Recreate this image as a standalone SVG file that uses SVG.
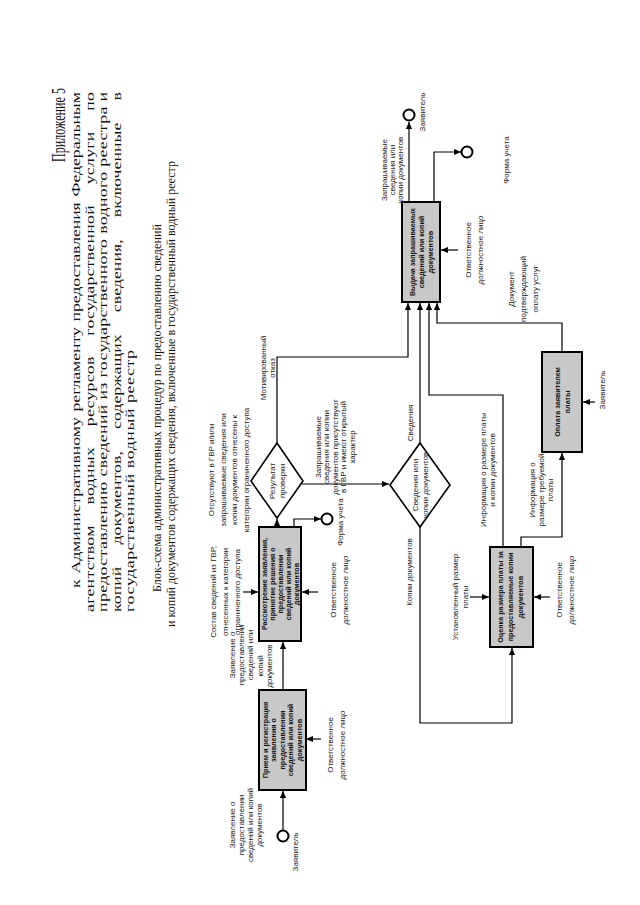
<svg xmlns="http://www.w3.org/2000/svg" width="640" height="905" viewBox="0 0 640 905">
<defs>
<style>
.hdr{font-family:"Liberation Serif","Times New Roman",serif;font-size:17.8px;fill:#111}
.ttl{font-family:"Liberation Serif","Times New Roman",serif;font-size:12.2px;fill:#111;text-anchor:middle}
.lbl{font-family:"Liberation Sans",Arial,sans-serif;font-size:8px;fill:#222;text-anchor:middle}
.bt{font-family:"Liberation Sans",Arial,sans-serif;font-size:7.2px;font-weight:bold;fill:#111;text-anchor:middle}
.box{fill:#c8c8c8;stroke:#000;stroke-width:2}
.dia{fill:#fff;stroke:#000;stroke-width:1.6}
.term{fill:#fff;stroke:#000;stroke-width:2}
.con{fill:none;stroke:#000;stroke-width:1.2}
</style>
<marker id="ah" viewBox="0 0 8 8" refX="8" refY="4" markerWidth="7" markerHeight="7" markerUnits="userSpaceOnUse" orient="auto"><path d="M0,0.5 L8,4 L0,7.5 z" fill="#000"/></marker>
</defs>
<rect width="640" height="905" fill="#fff"/>

<g id="header">
<text class="hdr" font-size="14" transform="translate(65,162) rotate(-90)" textLength="74" lengthAdjust="spacingAndGlyphs">Приложение 5</text>
<text class="hdr" word-spacing="1.5" transform="translate(80,588) rotate(-90) scale(1,0.68)" textLength="496" lengthAdjust="spacing">к Административному регламенту предоставления Федеральным</text>
<text class="hdr" word-spacing="16" transform="translate(93.5,612) rotate(-90) scale(1,0.68)" textLength="520" lengthAdjust="spacing">агентством водных ресурсов государственной услуги по</text>
<text class="hdr" transform="translate(107,612) rotate(-90) scale(1,0.68)" textLength="520" lengthAdjust="spacing">предоставлению сведений из государственного водного реестра и</text>
<text class="hdr" word-spacing="17.6" transform="translate(120.5,612) rotate(-90) scale(1,0.68)" textLength="520" lengthAdjust="spacing">копий документов, содержащих сведения, включенные в</text>
<text class="hdr" transform="translate(134,612) rotate(-90) scale(1,0.68)" textLength="262" lengthAdjust="spacing">государственный водный реестр</text>
<text class="ttl" transform="translate(161,408) rotate(-90)" textLength="368" lengthAdjust="spacingAndGlyphs">Блок-схема административных процедур по предоставлению сведений</text>
<text class="ttl" transform="translate(175,394) rotate(-90)" textLength="466" lengthAdjust="spacingAndGlyphs">и копий документов содержащих сведения, включенные в государственный водный реестр</text>
</g>

<g id="connectors">
<path class="con" marker-end="url(#ah)" d="M283,830 V791"/>
<path class="con" marker-end="url(#ah)" d="M283,690 V642"/>
<path class="con" marker-end="url(#ah)" d="M321,739 H306"/>
<path class="con" marker-end="url(#ah)" d="M243,592 H258"/>
<path class="con" marker-end="url(#ah)" d="M318,592 H302"/>
<path class="con" marker-end="url(#ah)" d="M294,527 V519 H321"/>
<path class="con" marker-end="url(#ah)" d="M277,527 V519"/>
<path class="con" marker-end="url(#ah)" d="M277,443 V357 H408 V303"/>
<path class="con" marker-end="url(#ah)" d="M302,484 H389"/>
<path class="con" marker-end="url(#ah)" d="M420,443 V303"/>
<path class="con" marker-end="url(#ah)" d="M420,527 V723 H512 V648"/>
<path class="con" marker-end="url(#ah)" d="M470,597 H489"/>
<path class="con" marker-end="url(#ah)" d="M550,597 H534"/>
<path class="con" marker-end="url(#ah)" d="M503,547 V395 H429 V303"/>
<path class="con" marker-end="url(#ah)" d="M521,547 V537 H562 V453"/>
<path class="con" marker-end="url(#ah)" d="M595,402 H583"/>
<path class="con" marker-end="url(#ah)" d="M562,352 V323 H437 V303"/>
<path class="con" marker-end="url(#ah)" d="M409,202 V122"/>
<path class="con" marker-end="url(#ah)" d="M434,202 V152 H461"/>
<path class="con" marker-end="url(#ah)" d="M458,250 H441"/>
</g>

<g id="terminals">
<circle class="term" cx="283" cy="836" r="5.5"/>
<circle class="term" cx="327" cy="519" r="5.5"/>
<circle class="term" cx="409" cy="115" r="5.5"/>
<circle class="term" cx="467" cy="152" r="5.5"/>
</g>

<g id="box1">
<rect class="box" x="259" y="690" width="47" height="100"/>
<text class="bt" transform="translate(267.5,740) rotate(-90)"><tspan x="0" y="0">Прием и регистрация</tspan><tspan x="0" y="8.5">заявления о</tspan><tspan x="0" y="17">предоставлении</tspan><tspan x="0" y="25.5">сведений или копий</tspan><tspan x="0" y="34">документов</tspan></text>
</g>

<g id="box2">
<rect class="box" x="259" y="527" width="42" height="114"/>
<text class="bt" transform="translate(266.5,584) rotate(-90)"><tspan x="0" y="0">Рассмотрение заявления,</tspan><tspan x="0" y="8">принятие решения о</tspan><tspan x="0" y="16">предоставлении</tspan><tspan x="0" y="24">сведений или копий</tspan><tspan x="0" y="32">документов</tspan></text>
</g>

<g id="decision1">
<polygon class="dia" points="277,443 303,481 277,518 251,481"/>
<text class="lbl" transform="translate(275,481) rotate(-90) scale(1,0.85)"><tspan x="0" y="0">Результат</tspan><tspan x="0" y="11.8">проверки</tspan></text>
</g>

<g id="decision2">
<polygon class="dia" points="420,443 450,485 420,527 390,485"/>
<text class="lbl" transform="translate(418,485) rotate(-90) scale(1,0.85)"><tspan x="0" y="0">Сведения или</tspan><tspan x="0" y="11.8">копии документов</tspan></text>
</g>

<g id="box-vydacha">
<rect class="box" x="402" y="202" width="38" height="100"/>
<text class="bt" transform="translate(414.5,252) rotate(-90)"><tspan x="0" y="0">Выдача запрашиваемых</tspan><tspan x="0" y="9">сведений или копий</tspan><tspan x="0" y="18">документов</tspan></text>
</g>

<g id="box-ocenka">
<rect class="box" x="490" y="547" width="43" height="100"/>
<text class="bt" transform="translate(502.5,597) rotate(-90)"><tspan x="0" y="0">Оценка размера платы за</tspan><tspan x="0" y="10">предоставляемые копии</tspan><tspan x="0" y="20">документов</tspan></text>
</g>

<g id="box-oplata">
<rect class="box" x="542" y="352" width="40" height="100"/>
<text class="bt" transform="translate(559.5,402) rotate(-90)"><tspan x="0" y="0">Оплата заявителем</tspan><tspan x="0" y="10">платы</tspan></text>
</g>

<g id="labels">
<text class="lbl" transform="translate(235,825) rotate(-90) scale(1,0.85)"><tspan x="0" y="0">Заявление о</tspan><tspan x="0" y="10.6">предоставлении</tspan><tspan x="0" y="21.2">сведений или копий</tspan><tspan x="0" y="31.8">документов</tspan></text>
<text class="lbl" transform="translate(298,852) rotate(-90) scale(1,0.85)">Заявитель</text>
<text class="lbl" transform="translate(235,655) rotate(-90) scale(1,0.85)"><tspan x="0" y="0">Заявление о</tspan><tspan x="0" y="10.6">предоставлении</tspan><tspan x="0" y="21.2">сведений или</tspan></text>
<text class="lbl" transform="translate(263,666) rotate(-90) scale(1,0.85)"><tspan x="0" y="0">копий</tspan><tspan x="0" y="10.6">документов</tspan></text>
<text class="lbl" transform="translate(333,745) rotate(-90) scale(1,0.85)"><tspan x="0" y="0">Ответственное</tspan><tspan x="0" y="14.1">должностное лицо</tspan></text>
<text class="lbl" transform="translate(216,592) rotate(-90) scale(1,0.85)"><tspan x="0" y="0">Состав сведений из ГВР,</tspan><tspan x="0" y="14.1">отнесенных к категории</tspan><tspan x="0" y="28.2">ограниченного доступа</tspan></text>
<text class="lbl" transform="translate(336,590) rotate(-90) scale(1,0.85)"><tspan x="0" y="0">Ответственное</tspan><tspan x="0" y="14.1">должностное лицо</tspan></text>
<text class="lbl" transform="translate(343,522) rotate(-90) scale(1,0.85)">Форма учета</text>
<text class="lbl" transform="translate(214,470) rotate(-90) scale(1,0.85)"><tspan x="0" y="0">Отсутствуют в ГВР и/или</tspan><tspan x="0" y="13.6">запрашиваемые сведения или</tspan><tspan x="0" y="27.2">копии документов отнесены к</tspan><tspan x="0" y="40.8">категории ограниченного доступа</tspan></text>
<text class="lbl" transform="translate(266,368) rotate(-90) scale(1,0.85)"><tspan x="0" y="0">Мотивированный</tspan><tspan x="0" y="10.6">отказ</tspan></text>
<text class="lbl" transform="translate(321,447) rotate(-90) scale(1,0.85)"><tspan x="0" y="0">Запрашиваемые</tspan><tspan x="0" y="10">сведения или копии</tspan><tspan x="0" y="20">документов присутствуют</tspan><tspan x="0" y="30">в ГВР и имеют открытый</tspan><tspan x="0" y="40">характер</tspan></text>
<text class="lbl" transform="translate(413,423) rotate(-90) scale(1,0.85)">Сведения</text>
<text class="lbl" transform="translate(412,572) rotate(-90) scale(1,0.85)">Копии документов</text>
<text class="lbl" transform="translate(458,597) rotate(-90) scale(1,0.85)"><tspan x="0" y="0">Установленный размер</tspan><tspan x="0" y="11.8">платы</tspan></text>
<text class="lbl" transform="translate(562,590) rotate(-90) scale(1,0.85)"><tspan x="0" y="0">Ответственное</tspan><tspan x="0" y="14.1">должностное лицо</tspan></text>
<text class="lbl" transform="translate(486,470) rotate(-90) scale(1,0.85)"><tspan x="0" y="0">Информация о размере платы</tspan><tspan x="0" y="10.6">и копии документов</tspan></text>
<text class="lbl" transform="translate(535,490) rotate(-90) scale(1,0.85)"><tspan x="0" y="0">Информация о</tspan><tspan x="0" y="10.6">размере требуемой</tspan><tspan x="0" y="21.2">платы</tspan></text>
<text class="lbl" transform="translate(605,390) rotate(-90) scale(1,0.85)">Заявитель</text>
<text class="lbl" transform="translate(514,289) rotate(-90) scale(1,0.85)"><tspan x="0" y="0">Документ</tspan><tspan x="0" y="14.1">подтверждающий</tspan><tspan x="0" y="28.2">оплату услуг</tspan></text>
<text class="lbl" transform="translate(387,170) rotate(-90) scale(1,0.85)"><tspan x="0" y="0">Запрашиваемые</tspan><tspan x="0" y="9.4">сведения или</tspan><tspan x="0" y="18.8">копии документов</tspan></text>
<text class="lbl" transform="translate(425,112) rotate(-90) scale(1,0.85)">Заявитель</text>
<text class="lbl" transform="translate(509,160) rotate(-90) scale(1,0.85)">Форма учета</text>
<text class="lbl" transform="translate(471,250) rotate(-90) scale(1,0.85)"><tspan x="0" y="0">Ответственное</tspan><tspan x="0" y="14.1">должностное лицо</tspan></text>
</g>
</svg>
